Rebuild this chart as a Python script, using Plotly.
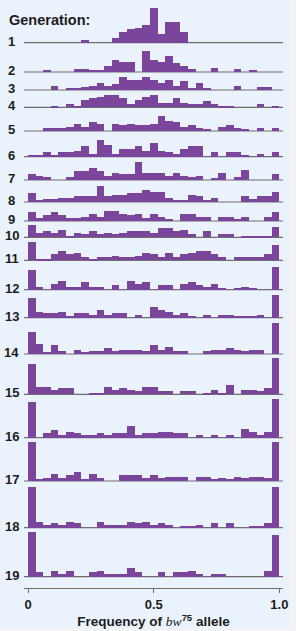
import plotly.graph_objects as go

# ---------------- data: number of populations per allele-frequency bin (0/32 ... 32/32)
GENERATION_LABELS = ["1", "2", "3", "4", "5", "6", "7", "8", "9", "10",
                     "11", "12", "13", "14", "15", "16", "17", "18", "19"]

GEN_01 = [0,0,0,0,0,0,0,2,0,0,0,3,7,9,10,12,23,6,14,14,7,0,0,0,0,0,0,0,0,0,0,0,0]
GEN_02 = [0,0,1,0,0,0,2,2,1,1,4,8,7,7,0,14,8,7,11,6,4,2,0,0,3,0,0,2,0,1,0,0,0]
GEN_03 = [0,0,0,3,0,1,1,2,3,5,3,4,9,7,7,9,7,5,7,3,6,1,5,1,0,0,0,3,0,0,2,2,0]
GEN_04 = [0,0,0,1,0,2,1,5,6,7,8,8,6,2,5,7,8,3,3,6,3,2,2,4,2,1,1,0,0,0,2,0,1]
GEN_05 = [0,0,2,2,2,3,5,3,6,5,0,5,4,5,4,4,5,10,7,6,3,4,2,1,0,3,4,2,1,0,2,0,2]
GEN_06 = [1,1,3,1,3,3,4,7,2,11,8,2,5,5,7,4,9,4,3,2,5,7,7,0,3,0,3,3,1,0,2,0,3]
GEN_07 = [4,3,2,0,0,2,6,6,8,6,3,5,4,4,12,5,5,5,3,5,3,2,3,0,1,5,0,2,7,0,0,0,4]
GEN_08 = [6,1,2,2,3,3,4,4,4,11,4,5,5,6,6,8,7,7,3,1,1,5,4,1,3,0,0,0,4,2,4,4,7]
GEN_09 = [6,2,4,6,4,2,2,3,5,3,7,7,5,4,5,2,5,3,1,0,5,5,3,3,0,3,3,1,3,0,0,3,6]
GEN_10 = [8,3,4,3,5,1,3,2,4,2,3,2,3,4,4,4,3,6,6,4,5,2,0,4,0,2,2,0,1,1,1,1,7]
GEN_11 = [12,1,1,4,6,4,5,2,1,2,2,3,2,2,3,5,4,2,5,2,4,5,6,6,4,2,0,2,2,2,2,4,10]
GEN_12 = [13,2,0,4,6,2,2,5,2,2,0,3,0,6,4,5,0,3,3,0,4,5,3,2,4,1,0,1,2,1,0,0,15]
GEN_13 = [13,4,3,3,4,1,3,3,2,5,2,3,3,0,2,0,7,5,4,2,3,1,0,2,0,2,2,1,1,1,2,0,15]
GEN_14 = [15,7,1,6,2,0,3,1,2,2,4,2,3,3,3,2,6,3,5,2,2,0,0,2,3,3,4,3,2,3,3,0,21]
GEN_15 = [20,5,5,3,4,4,0,0,1,1,5,3,4,3,2,5,5,2,2,0,2,2,0,1,3,1,6,0,3,3,2,4,24]
GEN_16 = [24,0,3,5,2,4,3,2,2,3,2,3,3,8,2,3,3,4,4,3,3,0,2,0,2,0,2,0,6,4,2,4,26]
GEN_17 = [26,1,2,5,2,4,6,1,5,2,0,0,4,4,4,2,4,2,3,3,3,0,3,3,1,2,1,3,2,3,3,2,26]
GEN_18 = [27,4,2,3,2,4,3,0,0,4,2,2,2,4,3,4,2,3,2,0,1,1,2,0,3,0,3,0,0,1,1,3,27]
GEN_19 = [30,3,0,4,2,4,0,0,3,4,2,2,2,6,3,0,0,3,0,3,3,4,2,0,2,2,0,0,0,0,0,4,28]

COUNTS = [GEN_01, GEN_02, GEN_03, GEN_04, GEN_05, GEN_06, GEN_07, GEN_08, GEN_09, GEN_10,
          GEN_11, GEN_12, GEN_13, GEN_14, GEN_15, GEN_16, GEN_17, GEN_18, GEN_19]

TICK_VALS = [0, 0.5, 1.0]
TICK_TEXT = ["0", "0.5", "1.0"]

# ---------------- layout (pixels)
W, H = 296, 631
PLOT_L, PLOT_R, PLOT_T, PLOT_B = 24, 283, 0, 588
BAR_X0, BAR_X1 = 28, 279.4
PX_PER_POP = 1.5
ROW_BASELINE_PX = [42.7, 72, 90, 107.3, 131, 156.7, 180, 202, 221, 237.3,
                   260.3, 289.7, 317.7, 354, 394.3, 437.7, 481, 527.7, 576.7]

PURPLE = "#7b459b"
BASE_LINE = "#6e6e6e"
TEXT = "#1c1c1c"
PANEL = "#eaf2fb"
FONT = "Liberation Sans, Arial, Helvetica, sans-serif"

n_bins = len(GEN_01)
x_centers = [(i + 0.5) / n_bins for i in range(n_bins)]
scale = BAR_X1 - BAR_X0
x_lo = -(BAR_X0 - PLOT_L) / scale
x_hi = x_lo + (PLOT_R - PLOT_L) / scale
y_top = (PLOT_B - PLOT_T) / PX_PER_POP


def px_to_paper_x(px):
    return (px - PLOT_L) / (PLOT_R - PLOT_L)


def px_to_paper_y(py):
    return (PLOT_B - py) / (PLOT_B - PLOT_T)


fig = go.Figure()
shapes = [dict(type="rect", xref="paper", yref="paper",
               x0=px_to_paper_x(0), x1=px_to_paper_x(289),
               y0=px_to_paper_y(628), y1=px_to_paper_y(0),
               fillcolor=PANEL, line=dict(width=0), layer="below")]
annotations = []

for label, counts, base_px in zip(GENERATION_LABELS, COUNTS, ROW_BASELINE_PX):
    base = (PLOT_B - base_px) / PX_PER_POP
    fig.add_trace(go.Bar(
        x=x_centers, y=counts, base=[base] * n_bins, width=1 / n_bins,
        marker=dict(color=PURPLE, line=dict(width=0)),
        showlegend=False, hoverinfo="skip"))
    shapes.append(dict(type="line", xref="paper", yref="y",
                       x0=0, x1=1, y0=base, y1=base,
                       line=dict(color=BASE_LINE, width=1.2), layer="below"))
    annotations.append(dict(text=label, xref="paper", yref="y",
                            x=px_to_paper_x(11.5), y=base, xanchor="center",
                            yanchor="middle", yshift=1.5, showarrow=False,
                            font=dict(family=FONT, size=13, color=TEXT, weight="bold")))

annotations.append(dict(text="Generation:", xref="paper", yref="paper",
                        x=px_to_paper_x(7.3), y=px_to_paper_y(19.5),
                        xanchor="left", yanchor="middle", showarrow=False,
                        font=dict(family=FONT, size=14.5, color=TEXT, weight="bold")))

fig.update_layout(
    width=W, height=H,
    margin=dict(l=PLOT_L, r=W - PLOT_R, t=PLOT_T, b=H - PLOT_B),
    paper_bgcolor="#f1f3f6", plot_bgcolor="rgba(0,0,0,0)",
    barmode="overlay", bargap=0,
    shapes=shapes, annotations=annotations,
    xaxis=dict(range=[x_lo, x_hi], showgrid=False, zeroline=False,
               showline=True, linecolor=BASE_LINE, linewidth=1,
               ticks="outside", ticklen=4, tickwidth=1, tickcolor=BASE_LINE,
               tickvals=TICK_VALS, ticktext=TICK_TEXT,
               tickfont=dict(family=FONT, size=13, color=TEXT, weight="bold"),
               title=dict(text='Frequency of <span style="font-family:Liberation Serif, Times New Roman, serif;font-style:italic;font-weight:normal">bw</span><sup>75</sup> allele',
                          font=dict(family=FONT, size=13.5, color=TEXT, weight="bold"),
                          standoff=2),
               fixedrange=True),
    yaxis=dict(range=[0, y_top], visible=False, fixedrange=True),
)

fig.write_html("out.html")
